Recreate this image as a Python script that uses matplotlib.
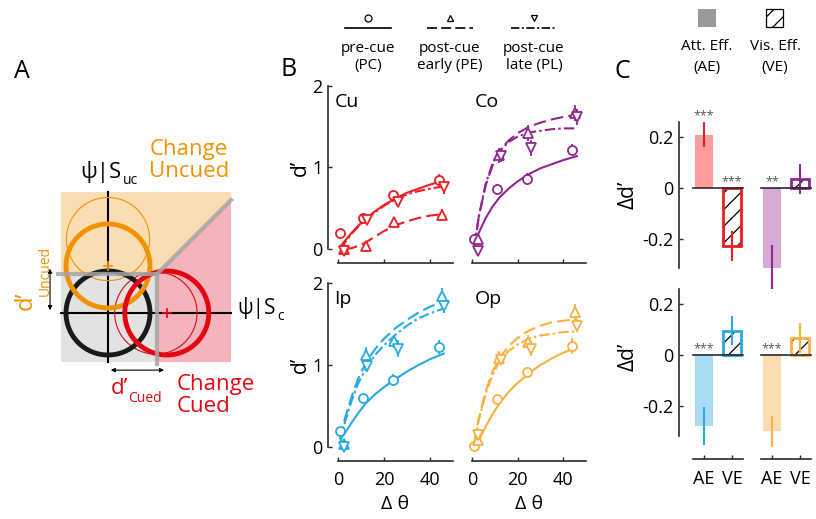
import matplotlib
matplotlib.use("Agg")
import matplotlib.pyplot as plt
from matplotlib.patches import Circle, Polygon, Rectangle
from matplotlib.lines import Line2D

plt.rcParams['font.family'] = ['Open Sans', 'DejaVu Sans']
plt.rcParams['hatch.linewidth'] = 0.9

W, H = 816, 519
RED = '#EE1D23'
PURPLE = '#91278F'
BLUE = '#27AAE1'
ORANGE = '#FBB040'
AXC = '#2b2b2b'
STARC = '#555555'

# ---------------- panel B data (d' against delta theta)
theta_pc = [1, 11, 24, 44]
theta_pe = [2.5, 12, 24.5, 45]
theta_pl = [2.8, 12.8, 26, 46]
fit_theta = [1, 3, 6, 9, 12, 16, 20, 25, 30, 35, 40, 46]

cu_pc = [0.20, 0.38, 0.66, 0.85]
cu_pe = [0.00, 0.04, 0.33, 0.42]
cu_pl = [-0.02, 0.35, 0.58, 0.76]
cu_pc_err = [0.03, 0.04, 0.05, 0.07]
cu_pe_err = [0.03, 0.04, 0.06, 0.07]
cu_pl_err = [0.03, 0.05, 0.07, 0.08]
cu_pc_fit = [0.03, 0.10, 0.20, 0.29, 0.37, 0.46, 0.54, 0.62, 0.69, 0.74, 0.79, 0.84]
cu_pe_fit = [None, 0.00, 0.01, 0.04, 0.08, 0.15, 0.22, 0.29, 0.34, 0.38, 0.41, 0.43]
cu_pl_fit = [0.00, 0.08, 0.19, 0.28, 0.36, 0.45, 0.53, 0.61, 0.67, 0.71, 0.74, 0.77]

co_pc = [0.12, 0.74, 0.86, 1.22]
co_pe = [0.12, 1.15, 1.42, 1.67]
co_pl = [-0.02, 1.14, 1.24, 1.62]
co_pc_err = [0.04, 0.06, 0.07, 0.07]
co_pe_err = [0.04, 0.09, 0.10, 0.10]
co_pl_err = [0.04, 0.07, 0.10, 0.10]
co_pc_fit = [0.05, 0.20, 0.38, 0.52, 0.63, 0.74, 0.83, 0.92, 0.99, 1.04, 1.09, 1.14]
co_pe_fit = [0.05, 0.40, 0.78, 1.02, 1.20, 1.33, 1.42, 1.50, 1.55, 1.59, 1.62, 1.65]
co_pl_fit = [0.00, 0.40, 0.80, 1.05, 1.20, 1.31, 1.38, 1.43, 1.45, 1.47, 1.48, 1.48]

ip_pc = [0.20, 0.60, 0.82, 1.22]
ip_pe = [0.04, 1.12, 1.29, 1.84]
ip_pl = [0.00, 0.99, 1.20, 1.72]
ip_pc_err = [0.04, 0.05, 0.07, 0.09]
ip_pe_err = [0.04, 0.10, 0.08, 0.10]
ip_pl_err = [0.03, 0.07, 0.10, 0.08]
ip_pc_fit = [0.10, 0.17, 0.30, 0.42, 0.53, 0.64, 0.73, 0.83, 0.92, 1.00, 1.07, 1.14]
ip_pe_fit = [0.10, 0.35, 0.62, 0.85, 1.02, 1.19, 1.32, 1.45, 1.55, 1.64, 1.71, 1.78]
ip_pl_fit = [0.05, 0.30, 0.57, 0.79, 0.95, 1.12, 1.24, 1.37, 1.48, 1.57, 1.63, 1.69]

op_pc = [0.01, 0.58, 0.91, 1.23]
op_pe = [0.08, 1.09, 1.28, 1.65]
op_pl = [0.15, 1.06, 1.20, 1.48]
op_pc_err = [0.03, 0.04, 0.06, 0.10]
op_pe_err = [0.04, 0.08, 0.08, 0.10]
op_pl_err = [0.04, 0.06, 0.09, 0.08]
op_pc_fit = [0.00, 0.08, 0.25, 0.40, 0.53, 0.67, 0.78, 0.90, 1.00, 1.08, 1.15, 1.21]
op_pe_fit = [0.05, 0.35, 0.68, 0.92, 1.08, 1.23, 1.33, 1.42, 1.48, 1.52, 1.54, 1.56]
op_pl_fit = [0.05, 0.33, 0.65, 0.88, 1.04, 1.17, 1.25, 1.32, 1.36, 1.38, 1.40, 1.41]

# ---------------- panel C data (delta d')
c_groups = ['Cu', 'Co', 'Ip', 'Op']
att_eff = [0.21, -0.315, -0.28, -0.30]
att_err = [0.05, 0.09, 0.075, 0.06]
vis_eff = [-0.228, 0.035, 0.095, 0.066]
vis_err = [0.058, 0.06, 0.057, 0.06]
att_stars = ['***', '**', '***', '***']
vis_stars = ['***', '', '', '']
bar_labels = ['AE', 'VE']

group_colors = [RED, PURPLE, BLUE, ORANGE]
light_colors = ['#FF9C9C', '#D8AAD7', '#A9DCF3', '#FDDDAF']


def fx(x):
    return x / W


def fy(y):
    return 1 - y / H


def add_ax(x0, y0, x1, y1):
    return fig.add_axes([fx(x0), fy(y1), (x1 - x0) / W, (y1 - y0) / H])


def sub(ax, main, s, xy, **kw):
    # subscript placed against the bounding box of the main text
    return ax.annotate(s, xy=xy, xycoords=main, fontsize=10, **kw)


fig = plt.figure(figsize=(8.16, 5.19), dpi=100)

# ======================= panel A (schematic)
axA = add_ax(0, 50, 290, 470)
axA.set_xlim(-108 / 42, 182 / 42)
axA.set_ylim(-157 / 42, 263 / 42)
axA.axis('off')

d_cued, d_uncued = 1.40, 1.12
prior_cued, prior_uncued = 1.14, 1.76
crit_x, crit_y = 1.17, 0.93
bx0, bx1, by0, by1 = -1.12, 2.93, -1.17, 2.88
diag_end = crit_y + (bx1 - crit_x)

axA.add_patch(Polygon([(bx0, crit_y), (crit_x, crit_y), (bx1, diag_end), (bx1, by1), (bx0, by1)],
                      closed=True, fc='#FBDDB4', ec='none', zorder=0))
axA.add_patch(Polygon([(crit_x, by0), (bx1, by0), (bx1, diag_end), (crit_x, crit_y)],
                      closed=True, fc='#F5B4BB', ec='none', zorder=0))
axA.add_patch(Rectangle((bx0, by0), crit_x - bx0, crit_y - by0, fc='#E2E2E2', ec='none', zorder=0))

axA.plot([0, 0], [by0, by1], color='black', lw=1.5, zorder=1)
axA.plot([bx0, bx1], [0, 0], color='black', lw=1.5, zorder=1)

axA.add_patch(Circle((0, prior_uncued), 0.99, fill=False, ec='#F39200', lw=0.8, zorder=2))
axA.add_patch(Circle((prior_cued, 0), 0.98, fill=False, ec='#E30613', lw=0.8, zorder=2))
axA.add_patch(Circle((0, 0), 1.0, fill=False, ec='#1a1a1a', lw=3.5, zorder=3))
axA.add_patch(Circle((0, d_uncued), 1.0, fill=False, ec='#F39200', lw=3.5, zorder=4))
axA.add_patch(Circle((d_cued, 0), 1.0, fill=False, ec='#E30613', lw=3.5, zorder=4))
axA.plot([0], [d_uncued], marker='+', color='#F39200', ms=7, mew=1.2, zorder=5)
axA.plot([d_cued], [0], marker='+', color='#E30613', ms=7, mew=1.2, zorder=5)

axA.plot([bx0 - 0.07, crit_x, crit_x], [crit_y, crit_y, by0 - 0.05], color='#A5A5A5', lw=3, alpha=0.85,
         solid_joinstyle='miter', zorder=6)
axA.plot([crit_x, bx1], [crit_y, diag_end], color='#A5A5A5', lw=3, alpha=0.85, zorder=6)

axA.annotate('', xy=(-1.38, 0), xytext=(-1.38, d_uncued),
             arrowprops=dict(arrowstyle='<|-|>', color='black', lw=0.8, mutation_scale=6))
axA.annotate('', xy=(0, -1.36), xytext=(d_cued, -1.36),
             arrowprops=dict(arrowstyle='<|-|>', color='black', lw=0.8, mutation_scale=6))

t = axA.text(0.33, 3.36, 'ψ|S', fontsize=16, ha='right', va='center')
sub(axA, t, 'uc', (1.02, 0.12), ha='left', va='center')
t = axA.text(3.08, 0.12, 'ψ|S', fontsize=15, ha='left', va='center')
sub(axA, t, 'c', (1.04, 0.12), ha='left', va='center')
axA.text(0.98, 3.64, 'Change\nUncued', fontsize=16, color='#F39200', ha='left', va='center',
         linespacing=1.05)
axA.text(1.64, -1.97, 'Change\nCued', fontsize=16, color='#E30613', ha='left', va='center',
         linespacing=1.05)
t = axA.text(0.48, -1.79, 'd’', fontsize=16, color='#E30613', ha='right', va='center')
sub(axA, t, 'Cued', (0.97, 0.02), color='#E30613', ha='left', va='center')
t = axA.text(-1.95, 0.07, 'd’', fontsize=17, color='#F39200', ha='center', va='bottom', rotation=90)
sub(axA, t, 'Uncued', (0.97, 0.78), color='#F39200', ha='left', va='bottom', rotation=90)

fig.text(fx(22), fy(72), 'A', fontsize=18, ha='center', va='center')
fig.text(fx(289), fy(70), 'B', fontsize=18, ha='center', va='center')
fig.text(fx(622), fy(72), 'C', fontsize=18, ha='center', va='center')

# ======================= panel B
b_panels = [
    ('Cu', RED, (cu_pc, cu_pe, cu_pl), (cu_pc_err, cu_pe_err, cu_pl_err), (cu_pc_fit, cu_pe_fit, cu_pl_fit)),
    ('Co', PURPLE, (co_pc, co_pe, co_pl), (co_pc_err, co_pe_err, co_pl_err), (co_pc_fit, co_pe_fit, co_pl_fit)),
    ('Ip', BLUE, (ip_pc, ip_pe, ip_pl), (ip_pc_err, ip_pe_err, ip_pl_err), (ip_pc_fit, ip_pe_fit, ip_pl_fit)),
    ('Op', ORANGE, (op_pc, op_pe, op_pl), (op_pc_err, op_pe_err, op_pl_err), (op_pc_fit, op_pe_fit, op_pl_fit)),
]
thetas = (theta_pc, theta_pe, theta_pl)
markers = ('o', '^', 'v')
styles = ('-', (0, (6, 2.5)), (0, (5, 1.5, 1.2, 1.5)))
b_x = [(338, 453), (472, 586)]
b_y = [(86, 249), (283, 447)]

for k, (name, col, vals, errs, fits) in enumerate(b_panels):
    row, cc = divmod(k, 2)
    ax = add_ax(b_x[cc][0], b_y[row][0], b_x[cc][1], b_y[row][1])
    ax.set_xlim(0, 50)
    ax.set_ylim(0, 2)
    for s in ('top', 'right'):
        ax.spines[s].set_visible(False)
    ax.spines['bottom'].set_position(('outward', 10))
    ax.spines['left'].set_position(('outward', 7))
    for s in ('bottom', 'left'):
        ax.spines[s].set_color(AXC)
        ax.spines[s].set_linewidth(1.2)
    ax.set_xticks([0, 20, 40])
    ax.set_yticks([0, 1, 2])
    ax.tick_params(direction='in', length=3, width=1, color=AXC, labelsize=13, pad=4)
    ax.tick_params(axis='x', pad=7)
    if cc == 1:
        ax.spines['left'].set_visible(False)
        ax.tick_params(axis='y', left=False, labelleft=False)
    if row == 0:
        ax.tick_params(axis='x', labelbottom=False)
    for th, v, e, ft, m, ls in zip(thetas, vals, errs, fits, markers, styles):
        fxs = [t for t, f in zip(fit_theta, ft) if f is not None]
        fys = [f for f in ft if f is not None]
        ax.plot(fxs, fys, color=col, lw=1.5, ls=ls, clip_on=False, zorder=2)
        ax.vlines(th, [a - b for a, b in zip(v, e)], [a + b for a, b in zip(v, e)],
                  color=col, lw=1.3, zorder=3, clip_on=False)
        ax.plot(th, v, ls='none', marker=m, ms=6.5, mfc='white', mec=col, mew=1.3,
                clip_on=False, zorder=4)
    ax.text(0.02 if cc else -0.03, 0.9, name, transform=ax.transAxes, fontsize=14,
            ha='left', va='center')

for yy in (168, 365):
    fig.text(fx(300), fy(yy), 'd’', fontsize=15, rotation=90, ha='center', va='center')
for xx in (395, 529):
    fig.text(fx(xx), fy(504), 'Δ θ', fontsize=14, ha='center', va='center')

# legend of panel B
leg_x = [368, 450, 534]
leg_text = ['pre-cue\n(PC)', 'post-cue\nearly (PE)', 'post-cue\nlate (PL)']
for xc, m, ls, t in zip(leg_x, markers, styles, leg_text):
    fig.add_artist(Line2D([fx(xc - 23), fx(xc + 23)], [fy(28), fy(28)], color='black', lw=1.2,
                          ls=ls, transform=fig.transFigure))
    fig.add_artist(Line2D([fx(xc)], [fy(18)], marker=m, ms=5, mfc='white', mec='black', mew=0.9,
                          ls='none', transform=fig.transFigure))
    fig.text(fx(xc), fy(57), t, fontsize=11, ha='center', va='center', linespacing=1.2)

# ======================= panel C
pos = [[0, 1], [2.43, 3.43]]
c_rows = [(122, 268, (-0.314, 0.26)), (289, 459, (-0.408, 0.259))]
for row in range(2):
    y0, y1, lim = c_rows[row]
    ax = add_ax(679, y0, 812, y1)
    ax.set_xlim(-0.893, 3.857)
    ax.set_ylim(*lim)
    for s in ('top', 'right', 'bottom'):
        ax.spines[s].set_visible(False)
    ax.spines['left'].set_color(AXC)
    ax.spines['left'].set_linewidth(1.2)
    ax.spines['left'].set_bounds(-0.318 if row else -0.314, 0.26)
    ax.set_yticks([-0.2, 0, 0.2])
    ax.set_yticklabels(['-0.2', '0', '0.2'])
    ax.tick_params(axis='y', direction='in', length=3, width=1, color=AXC, labelsize=13, pad=4)
    ax.set_ylabel('Δd’', fontsize=15, labelpad=2)
    for g in range(2):
        gi = row * 2 + g
        col = group_colors[gi]
        pa, pv = pos[g]
        ax.bar(pa, att_eff[gi], width=0.65, color=light_colors[gi], ec='none', zorder=1)
        ax.bar(pv, vis_eff[gi], width=0.65, color='white', ec='black', lw=0, hatch='//', zorder=1)
        ax.bar(pv, vis_eff[gi], width=0.65, fill=False, ec=col, lw=2, zorder=2)
        ax.vlines([pa, pv], [att_eff[gi] - att_err[gi], vis_eff[gi] - vis_err[gi]],
                  [att_eff[gi] + att_err[gi], vis_eff[gi] + vis_err[gi]],
                  color=col, lw=1.5, zorder=3, clip_on=False)
        ax.plot([pa - 0.4, pv + 0.4], [0, 0], color=AXC, lw=1.2, zorder=4)
        sa = 0.285 if att_eff[gi] > 0 else 0.024
        ax.text(pa, sa, att_stars[gi], fontsize=9, color=STARC, ha='center', va='center')
        if vis_stars[gi]:
            sv = 0.024 if vis_eff[gi] < 0 else 0.2
            ax.text(pv, sv, vis_stars[gi], fontsize=9, color=STARC, ha='center', va='center')
        if row == 1:
            ax.plot([pa - 0.4, pv + 0.4], [lim[0], lim[0]], color=AXC, lw=1.2, clip_on=False)
    if row == 1:
        ax.set_xticks([p for g in pos for p in g])
        ax.set_xticklabels(bar_labels * 2)
        ax.tick_params(axis='x', direction='in', length=3, width=1, color=AXC, labelsize=13, pad=8)
    else:
        ax.set_xticks([])
    ax.yaxis.set_label_coords(-0.3, 0.5 if row == 0 else 0.6)

# legend of panel C
fig.add_artist(Rectangle((fx(698), fy(27)), 18 / W, 18 / H, fc='#999999', ec='none',
                         transform=fig.transFigure))
fig.add_artist(Rectangle((fx(766), fy(27)), 17 / W, 18 / H, fc='white', ec='black', lw=0.9,
                         hatch='//', transform=fig.transFigure))
fig.text(fx(707), fy(57), 'Att. Eff.\n(AE)', fontsize=11, ha='center', va='center', linespacing=1.5)
fig.text(fx(775), fy(57), 'Vis. Eff.\n(VE)', fontsize=11, ha='center', va='center', linespacing=1.5)

fig.savefig('out.png', dpi=100)
